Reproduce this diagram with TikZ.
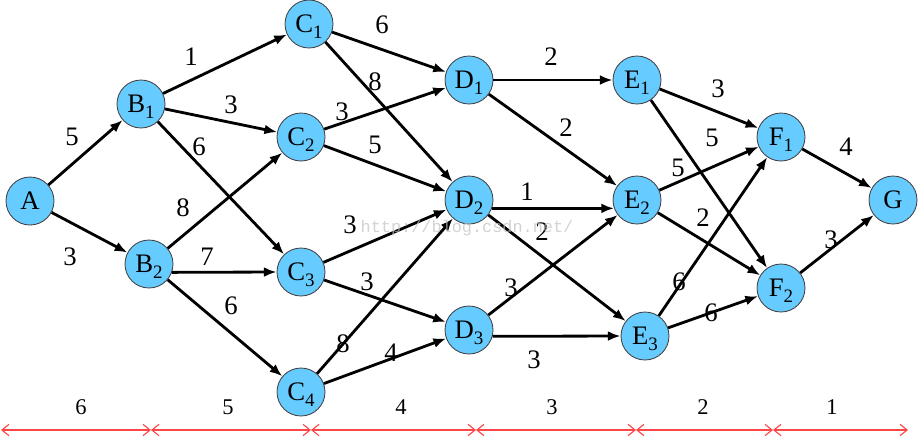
\documentclass[tikz,border=0pt]{standalone}
\usepackage{fontspec}
\setmainfont{Liberation Serif}
\newfontfamily\timesfont{Liberation Serif}
\newfontfamily\urlfont{Liberation Mono}
\usepackage{xcolor}
\usepackage{tikz}
\usetikzlibrary{arrows.meta}
\definecolor{sky}{RGB}{102,204,255}
\definecolor{rulered}{RGB}{255,70,70}
\newcommand{\nsub}[1]{\raisebox{-4.3pt}[0pt][0pt]{\fontsize{13.5}{13.5}\selectfont#1}}

\begin{document}
\begin{tikzpicture}[
  x=0.025cm, y=-0.025cm,
  stage/.style={circle, draw=black!75, line width=0.6pt, fill=sky, minimum size=1.2cm, inner sep=0pt, font=\timesfont\fontsize{19}{19}\selectfont},
  arc/.style={-{Latex[length=9pt,width=7pt]}, line width=2pt},
  wt/.style={inner sep=1pt, font=\timesfont\fontsize{19}{19}\selectfont},
  ruler/.style={{Straight Barb[length=5pt,width=8pt]}-{Straight Barb[length=5pt,width=8pt]}, draw=rulered, line width=0.8pt},
  tick/.style={inner sep=1pt, text=black, font=\timesfont\fontsize{16}{16}\selectfont}
]
\useasboundingbox (0,0) rectangle (918,436);

\node[stage] (A) at (30,201) {A};
\node[stage] (B1) at (141,104) {B\nsub{1}};
\node[stage] (B2) at (149,264) {B\nsub{2}};
\node[stage] (C1) at (309,24) {C\nsub{1}};
\node[stage] (C2) at (301,137) {C\nsub{2}};
\node[stage] (C3) at (301,272) {C\nsub{3}};
\node[stage] (C4) at (301,392) {C\nsub{4}};
\node[stage] (D1) at (469,80) {D\nsub{1}};
\node[stage] (D2) at (469,200) {D\nsub{2}};
\node[stage] (D3) at (469,330) {D\nsub{3}};
\node[stage] (E1) at (637,80) {E\nsub{1}};
\node[stage] (E2) at (637,200) {E\nsub{2}};
\node[stage] (E3) at (645,336) {E\nsub{3}};
\node[stage] (F1) at (781,137) {F\nsub{1}};
\node[stage] (F2) at (781,288) {F\nsub{2}};
\node[stage] (G) at (893,200) {G};

\draw[arc] (A) -- (B1) node[wt] at (72,137) {5};
\draw[arc] (A) -- (B2) node[wt] at (70,257) {3};
\draw[arc] (B1) -- (C1) node[wt] at (191,57) {1};
\draw[arc] (B1) -- (C2) node[wt] at (231,105) {3};
\draw[arc] (B1) -- (C3) node[wt] at (199,147) {6};
\draw[arc] (B2) -- (C2) node[wt] at (183,208) {8};
\draw[arc] (B2.-20) -- (C3.180) node[wt] at (207,257) {7};
\draw[arc] (B2) -- (C4) node[wt] at (231,306) {6};
\draw[arc] (C1) -- (D1) node[wt] at (382,25) {6};
\draw[arc] (C1) -- (D2) node[wt] at (375,82) {8};
\draw[arc] (C2) -- (D1) node[wt] at (342,112) {3};
\draw[arc] (C2) -- (D2) node[wt] at (375,145) {5};
\draw[arc] (C3) -- (D2) node[wt] at (350,225) {3};
\draw[arc] (C3) -- (D3) node[wt] at (367,282) {3};
\draw[arc] (C4) -- (D2) node[wt] at (343,344) {8};
\draw[arc] (C4) -- (D3) node[wt] at (391,353) {4};
\draw[arc] (D1) -- (E1) node[wt] at (551,57) {2};
\draw[arc] (D1) -- (E2) node[wt] at (566,128) {2};
\draw[arc] (D2.-20) -- (E2.200) node[wt] at (527,192) {1};
\draw[arc] (D2) -- (E3) node[wt] at (542,232) {2};
\draw[arc] (D3) -- (E2) node[wt] at (511,288) {3};
\draw[arc] (D3.-15) -- (E3.180) node[wt] at (534,360) {3};
\draw[arc] (E1) -- (F1) node[wt] at (718,89) {3};
\draw[arc] (E1) -- (F2) node[wt] at (712,138) {5};
\draw[arc] (E2) -- (F1) node[wt] at (678,168) {5};
\draw[arc] (E2) -- (F2) node[wt] at (703,218) {2};
\draw[arc] (E3) -- (F1) node[wt] at (679,282) {6};
\draw[arc] (E3) -- (F2) node[wt] at (711,313) {6};
\draw[arc] (F1) -- (G) node[wt] at (846,147) {4};
\draw[arc] (F2) -- (G) node[wt] at (831,240) {3};

% stage scale along the bottom
\coordinate (t0) at (1,430);
\coordinate (t1) at (151,430);
\coordinate (t2) at (311,430);
\coordinate (t3) at (476,430);
\coordinate (t4) at (636,430);
\coordinate (t5) at (773,430);
\coordinate (t6) at (908,430);
\draw[ruler] (t0) -- (t1) node[tick] at (81,407) {6};
\draw[ruler] (t1) -- (t2) node[tick] at (228,407) {5};
\draw[ruler] (t2) -- (t3) node[tick] at (401,407) {4};
\draw[ruler] (t3) -- (t4) node[tick] at (552,407) {3};
\draw[ruler] (t4) -- (t5) node[tick] at (703,407) {2};
\draw[ruler] (t5) -- (t6) node[tick] at (832,407) {1};

\node[text=black!25, opacity=0.7, font=\urlfont\fontsize{12}{12}\selectfont] (url) at (467,228) {http://blog.csdn.net/};
\end{tikzpicture}
\end{document}
